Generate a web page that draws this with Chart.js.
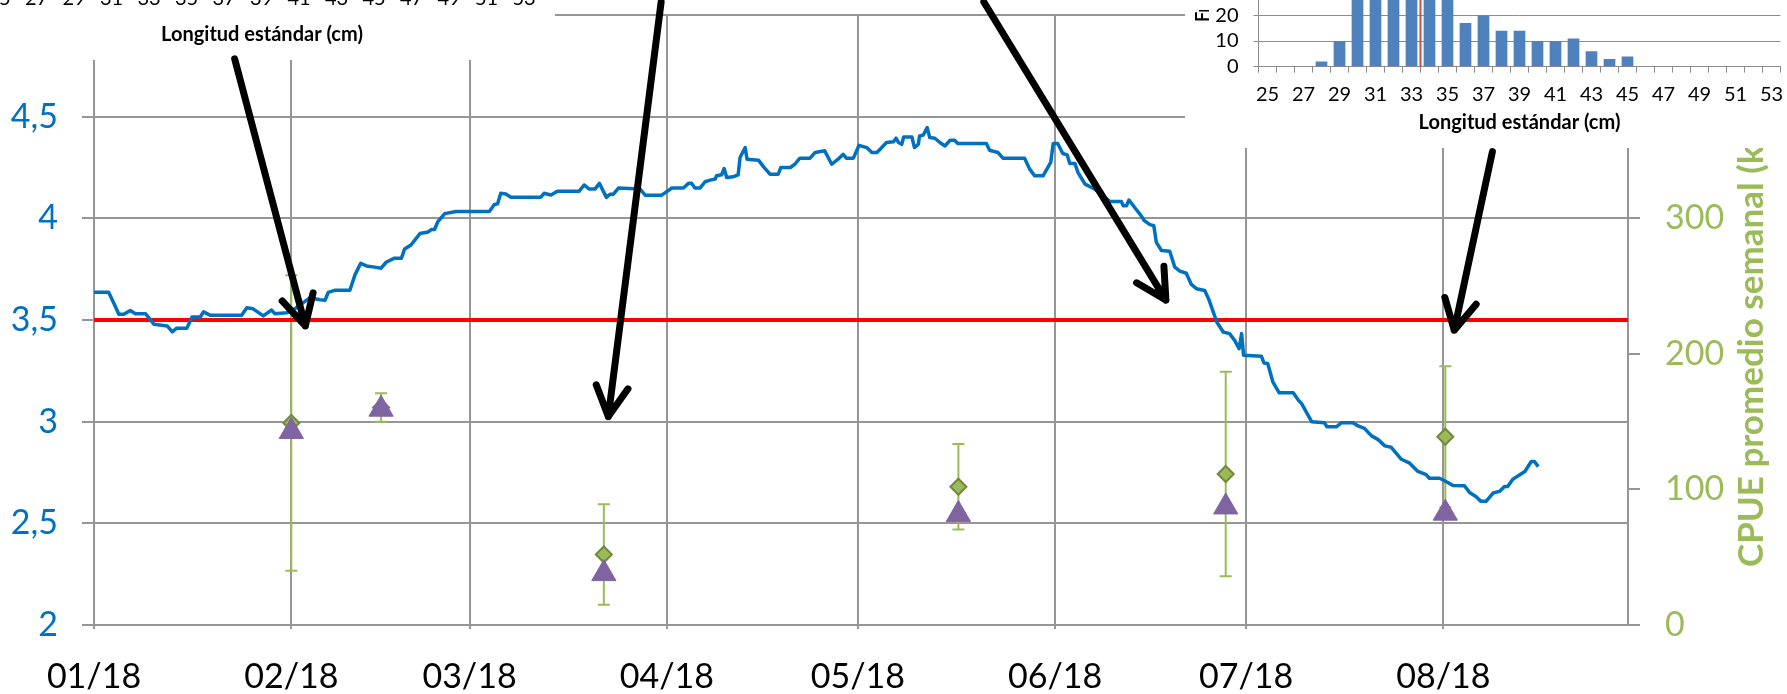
<!DOCTYPE html>
<html lang="es">
<head>
<meta charset="utf-8">
<title>CPUE semanal</title>
<script src="https://cdn.jsdelivr.net/npm/chart.js@4.4.1/dist/chart.umd.min.js"></script>
<style>
  html, body { margin: 0; padding: 0; background: #fff; }
  #wrap { position: relative; width: 1787px; height: 694px; overflow: hidden; }
  #principal { position: absolute; left: 0; top: 0; }
  #histo { position: absolute; left: 1185px; top: 0; background: #fff; }
</style>
</head>
<body>
<div id="wrap">
  <canvas id="principal" width="1787" height="694"></canvas>
  <canvas id="histo" width="602" height="148"></canvas>
</div>
<script>
// eje x en dias desde el 1 de enero
const meses = ['01/18', '02/18', '03/18', '04/18', '05/18', '06/18', '07/18', '08/18'];
const diasMes = [0, 31, 59, 90, 120, 151, 181, 212];

// serie diaria (eje izquierdo)
const serieDias = [0, 2.3, 3.1, 3.9, 4.7, 5.7, 6.5, 8.1, 9.4, 11.5, 12.3, 13, 14.6, 15.4, 16.7, 17.2, 18.3, 23.2, 24, 25,
  26.6, 27.9, 28.4, 30.3, 31.3, 33.9, 35.5, 36.3, 36.8, 37.8, 40.2, 41, 41.9, 42.8, 44.1, 45.1, 45.9, 47.2, 48.3, 48.8,
  49.8, 51.2, 52.5, 53, 53.5, 54, 55.1, 56.9, 62.1, 62.9, 63.4, 63.9, 64.7, 65.5, 70.2, 70.7, 71.8, 72.8, 76.2, 77,
  77.8, 78.7, 79.4, 80.5, 81.1, 81.6, 82.4, 85.8, 86.6, 89.2, 90.2, 90.8, 92.6, 93.4, 93.9, 94.4, 95.2, 96, 96.8, 97.6,
  97.8, 98.6, 99, 99.4, 100.4, 101.2, 101.5, 102.3, 102.6, 104.4, 105.2, 106.2, 107.5, 107.9, 109.4, 110.1, 110.9, 112.5, 113.3, 114.8,
  115.9, 116.9, 117.7, 118.2, 119.3, 120.2, 121.4, 122.2, 123, 123.5, 124.5, 125.6, 126, 126.4, 126.9, 127.2, 128.5, 128.9, 129.5, 129.7,
  130.3, 130.9, 131.3, 132.1, 132.9, 133.7, 134.5, 135.2, 135.7, 140.2, 140.7, 142, 142.8, 146.2, 147, 147.8, 149.1, 150.3, 150.7, 151.4,
  152.2, 152.9, 153.3, 154.1, 154.6, 155.7, 157.2, 159.6, 161.4, 161.7, 162.2, 162.6, 163.8, 164.5, 165, 165.9, 166.5, 166.9, 167.7, 169,
  169.8, 170.6, 171.6, 172.4, 173.2, 174.5, 175.1, 176.4, 177.4, 178.4, 179.2, 179.9, 180.3, 180.6, 183.4, 183.8, 184.4, 185.2, 186.2, 188.4,
  189.2, 189.7, 191.3, 193.3, 193.7, 195.2, 196, 197.8, 198.6, 199.6, 200.7, 201.7, 202.8, 203.8, 205.4, 206.7, 208, 209.3, 209.8, 211.4,
  212.4, 213.5, 215.3, 216.1, 217.1, 217.9, 218.7, 219.8, 220.8, 221.6, 222.1, 222.9, 224, 224.8, 225.8, 226.3, 226.9];
const serieValores = [3.636, 3.636, 3.584, 3.528, 3.528, 3.547, 3.531, 3.531, 3.479, 3.471, 3.442, 3.46, 3.46, 3.515, 3.515, 3.54, 3.523, 3.523, 3.56, 3.555,
  3.52, 3.549, 3.531, 3.536, 3.55, 3.609, 3.6, 3.597, 3.636, 3.646, 3.646, 3.722, 3.779, 3.766, 3.76, 3.755, 3.784, 3.804, 3.804, 3.849,
  3.869, 3.925, 3.933, 3.945, 3.945, 3.982, 4.023, 4.034, 4.034, 4.068, 4.071, 4.123, 4.12, 4.104, 4.104, 4.123, 4.115, 4.133, 4.133, 4.164,
  4.144, 4.144, 4.172, 4.103, 4.119, 4.119, 4.149, 4.144, 4.114, 4.114, 4.136, 4.149, 4.149, 4.172, 4.172, 4.149, 4.149, 4.18, 4.188, 4.193,
  4.209, 4.214, 4.245, 4.201, 4.204, 4.214, 4.299, 4.348, 4.291, 4.286, 4.253, 4.217, 4.217, 4.25, 4.25, 4.266, 4.296, 4.296, 4.324, 4.332,
  4.266, 4.291, 4.315, 4.296, 4.296, 4.359, 4.348, 4.324, 4.324, 4.34, 4.373, 4.377, 4.394, 4.373, 4.364, 4.4, 4.4, 4.348, 4.364, 4.405,
  4.41, 4.446, 4.397, 4.394, 4.373, 4.356, 4.384, 4.384, 4.368, 4.368, 4.335, 4.324, 4.296, 4.296, 4.242, 4.209, 4.209, 4.275, 4.368, 4.368,
  4.319, 4.312, 4.27, 4.27, 4.225, 4.168, 4.144, 4.083, 4.083, 4.062, 4.062, 4.09, 4.041, 4.013, 3.989, 3.969, 3.964, 3.882, 3.842, 3.838,
  3.76, 3.74, 3.73, 3.675, 3.654, 3.645, 3.605, 3.49, 3.441, 3.433, 3.4, 3.359, 3.433, 3.327, 3.322, 3.289, 3.286, 3.196, 3.142, 3.142,
  3.106, 3.09, 3.0, 2.995, 2.975, 2.975, 2.995, 2.995, 2.979, 2.967, 2.93, 2.913, 2.881, 2.874, 2.815, 2.796, 2.755, 2.739, 2.722, 2.722,
  2.706, 2.686, 2.685, 2.652, 2.632, 2.608, 2.608, 2.649, 2.657, 2.681, 2.681, 2.717, 2.739, 2.755, 2.804, 2.804, 2.779];

const umbral = 3.5;

// muestreos CPUE (eje derecho)
const muestreoDias = [31, 45.1, 80.1, 135.8, 177.8, 212.3];
const cpueMedia = [149, 160.5, 52, 102, 111.4, 138.9];
const cpueError = [109, 10.5, 37, 31.5, 75.4, 52];
const cpueMediana = [142.8, 159.2, 37.9, 81.6, 87.1, 82.5];

// histograma de tallas (recuadro de arriba a la derecha)
const tallas = [25, 26, 27, 28, 29, 30, 31, 32, 33, 34, 35, 36, 37, 38, 39, 40, 41, 42, 43, 44, 45, 46, 47, 48, 49, 50, 51, 52, 53];
const frecuencias = [0, 0, 0, 2, 10, 30, 36, 40, 38, 34, 29, 17, 20, 14, 14, 10, 10, 11, 6, 3, 4, 0, 0, 0, 0, 0, 0, 0, 0];
const ticksFrec = [0, 10, 20];
const tallaMedia = 33.5;

// flechas: [dia, valor] inicio -> punta
const flechas = [
  [[22.1, 4.784], [33.2, 3.471]],
  [[89.1, 5.064], [80.8, 3.025]],
  [[139.8, 5.064], [168.4, 3.598]],
  [[219.7, 4.328], [213.7, 3.45]]
];

const gris = '#969696';
const fuente = 'Lato';

const barrasError = {
  id: 'barrasError',
  beforeDatasetsDraw(chart) {
    const { ctx, scales: { x, y2 } } = chart;
    ctx.save();
    ctx.strokeStyle = '#9bbb59';
    ctx.lineWidth = 2;
    muestreoDias.forEach((d, i) => {
      const px = x.getPixelForValue(d);
      const arriba = y2.getPixelForValue(cpueMedia[i] + cpueError[i]);
      const abajo = y2.getPixelForValue(cpueMedia[i] - cpueError[i]);
      ctx.beginPath();
      ctx.moveTo(px, arriba); ctx.lineTo(px, abajo);
      ctx.moveTo(px - 6, arriba); ctx.lineTo(px + 6, arriba);
      ctx.moveTo(px - 6, abajo); ctx.lineTo(px + 6, abajo);
      ctx.stroke();
    });
    ctx.restore();
  }
};

const decoracion = {
  id: 'decoracion',
  afterDraw(chart) {
    const { ctx, scales: { x, y } } = chart;
    ctx.save();

    // titulo del eje derecho (se lee de abajo hacia arriba)
    ctx.save();
    ctx.translate(1752, 567);
    ctx.rotate(-Math.PI / 2);
    ctx.font = 'bold 35px ' + fuente;
    ctx.fillStyle = '#9bbb59';
    ctx.textAlign = 'left';
    ctx.textBaseline = 'middle';
    ctx.fillText('CPUE promedio semanal (kg/viaje)', 0, 0);
    ctx.restore();

    // recuadro de arriba a la izquierda (solo asoma el eje de tallas)
    ctx.fillStyle = '#fff';
    ctx.fillRect(0, 0, 555, 60);
    ctx.fillStyle = '#000';
    ctx.font = '20px ' + fuente;
    ctx.textAlign = 'center';
    ctx.textBaseline = 'middle';
    tallas.forEach((t, i) => {
      if (t % 2) ctx.fillText(String(t), -1 + i * 18.75, -1);
    });
    ctx.font = 'bold 20px ' + fuente;
    ctx.fillText('Longitud estándar (cm)', 262, 35);

    // flechas
    ctx.strokeStyle = '#000';
    ctx.lineWidth = 7;
    ctx.lineCap = 'round';
    ctx.lineJoin = 'round';
    flechas.forEach(([a, b]) => {
      const x0 = x.getPixelForValue(a[0]), y0 = y.getPixelForValue(a[1]);
      const x1 = x.getPixelForValue(b[0]), y1 = y.getPixelForValue(b[1]);
      const ang = Math.atan2(y1 - y0, x1 - x0);
      ctx.beginPath();
      ctx.moveTo(x0, y0);
      ctx.lineTo(x1, y1);
      [-1, 1].forEach(s => {
        const a2 = ang + Math.PI + s * 0.49;
        ctx.moveTo(x1, y1);
        ctx.lineTo(x1 + 34 * Math.cos(a2), y1 + 34 * Math.sin(a2));
      });
      ctx.stroke();
    });
    ctx.restore();
  }
};

new Chart(document.getElementById('principal'), {
  type: 'line',
  data: {
    datasets: [
      {
        data: muestreoDias.map((d, i) => ({ x: d, y: cpueMediana[i] })),
        yAxisID: 'y2',
        showLine: false,
        pointStyle: 'triangle',
        pointRadius: 14,
        pointBackgroundColor: '#8064a2',
        pointBorderColor: '#8064a2',
        pointBorderWidth: 1
      },
      {
        data: muestreoDias.map((d, i) => ({ x: d, y: cpueMedia[i] })),
        yAxisID: 'y2',
        showLine: false,
        pointStyle: 'rectRot',
        pointRadius: 8,
        pointBackgroundColor: '#9bbb59',
        pointBorderColor: '#71893f',
        pointBorderWidth: 2
      },
      {
        data: serieDias.map((d, i) => ({ x: d, y: serieValores[i] })),
        yAxisID: 'y',
        borderColor: '#0070c0',
        borderWidth: 3.5,
        borderJoinStyle: 'round',
        pointRadius: 0,
        tension: 0
      },
      {
        data: [{ x: 0, y: umbral }, { x: 241, y: umbral }],
        yAxisID: 'y',
        borderColor: '#ff0000',
        borderWidth: 4,
        pointRadius: 0
      }
    ]
  },
  options: {
    responsive: false,
    animation: false,
    devicePixelRatio: 1,
    layout: { padding: { top: 14, left: 0, right: 0, bottom: 0 } },
    plugins: { legend: { display: false }, tooltip: { enabled: false } },
    scales: {
      x: {
        type: 'linear',
        min: 0,
        max: 241,
        afterBuildTicks: s => { s.ticks = diasMes.map(v => ({ value: v })); },
        ticks: {
          callback: v => meses[diasMes.indexOf(v)],
          color: '#000',
          font: { family: fuente, size: 34 },
          padding: 28,
          maxRotation: 0,
          autoSkip: false
        },
        grid: { color: gris, lineWidth: 2, tickLength: 4 },
        border: { color: gris, width: 2 },
        afterFit: s => { s.height = 69; s.paddingLeft = 0; s.paddingRight = 0; }
      },
      y: {
        position: 'left',
        min: 2,
        max: 5,
        ticks: {
          stepSize: 0.5,
          callback: v => String(v).replace('.', ','),
          color: '#0070c0',
          font: { family: fuente, size: 34 },
          padding: 24
        },
        grid: { color: gris, lineWidth: 2, tickLength: 12 },
        border: { color: gris, width: 2 },
        afterFit: s => { s.width = 94; s.paddingTop = 0; s.paddingBottom = 0; }
      },
      y2: {
        position: 'right',
        min: 0,
        max: 450,
        afterBuildTicks: s => { s.ticks = s.ticks.filter(t => t.value % 100 === 0); },
        ticks: {
          stepSize: 100,
          color: '#9bbb59',
          font: { family: fuente, size: 34 },
          padding: 25
        },
        grid: { drawOnChartArea: false, color: gris, lineWidth: 2, tickLength: 12 },
        border: { color: gris, width: 2 },
        afterFit: s => { s.width = 159; s.paddingTop = 0; s.paddingBottom = 0; }
      }
    }
  },
  plugins: [barrasError, decoracion]
});

// recuadro del histograma
const lineaMedia = {
  id: 'lineaMedia',
  afterDatasetsDraw(chart) {
    const { ctx, chartArea, scales: { x } } = chart;
    const ancho = x.getPixelForValue(1) - x.getPixelForValue(0);
    const px = x.getPixelForValue(0) + (tallaMedia - tallas[0]) * ancho;
    ctx.save();
    ctx.strokeStyle = '#c0504d';
    ctx.lineWidth = 2;
    ctx.beginPath();
    ctx.moveTo(px, chartArea.top);
    ctx.lineTo(px, chartArea.bottom);
    ctx.stroke();
    ctx.restore();
  },
  afterDraw(chart) {
    // titulo del eje y, recortado como en el original
    const ctx = chart.ctx;
    ctx.save();
    ctx.beginPath();
    ctx.rect(0, 10, 40, 40);
    ctx.clip();
    ctx.translate(18.5, 22);
    ctx.rotate(-Math.PI / 2);
    ctx.font = 'bold 18px ' + fuente;
    ctx.fillStyle = '#000';
    ctx.textAlign = 'left';
    ctx.textBaseline = 'middle';
    ctx.fillText('Frecuencia', 0, 0);
    ctx.restore();
  }
};

new Chart(document.getElementById('histo'), {
  type: 'bar',
  data: {
    labels: tallas,
    datasets: [{
      data: frecuencias,
      backgroundColor: '#4f81bd',
      barPercentage: 0.65,
      categoryPercentage: 1
    }]
  },
  options: {
    responsive: false,
    animation: false,
    devicePixelRatio: 1,
    layout: { padding: { top: 0, right: 6.5, left: 0, bottom: 0 } },
    plugins: { legend: { display: false }, tooltip: { enabled: false } },
    scales: {
      x: {
        ticks: {
          autoSkip: false,
          maxRotation: 0,
          callback: (v, i) => (tallas[i] % 2 ? String(tallas[i]) : ''),
          color: '#000',
          font: { family: fuente, size: 20 },
          padding: 10
        },
        grid: { offset: true, drawOnChartArea: false, color: '#8c8c8c', tickLength: 6 },
        border: { color: '#8c8c8c' },
        title: {
          display: true,
          text: 'Longitud estándar (cm)',
          color: '#000',
          font: { family: fuente, size: 20, weight: 'bold' },
          padding: { top: 0, bottom: 13 }
        },
        afterFit: s => { s.height = 81.3; s.paddingLeft = 0; s.paddingRight = 0; }
      },
      y: {
        min: 0,
        max: 26,
        afterBuildTicks: s => { s.ticks = ticksFrec.map(v => ({ value: v })); },
        ticks: { color: '#000', font: { family: fuente, size: 20 }, padding: 15 },
        grid: { color: '#8c8c8c', tickLength: 5 },
        border: { color: '#8c8c8c' },
        afterFit: s => { s.width = 73.5; s.paddingTop = 0; s.paddingBottom = 0; }
      }
    }
  },
  plugins: [lineaMedia]
});
</script>
</body>
</html>
